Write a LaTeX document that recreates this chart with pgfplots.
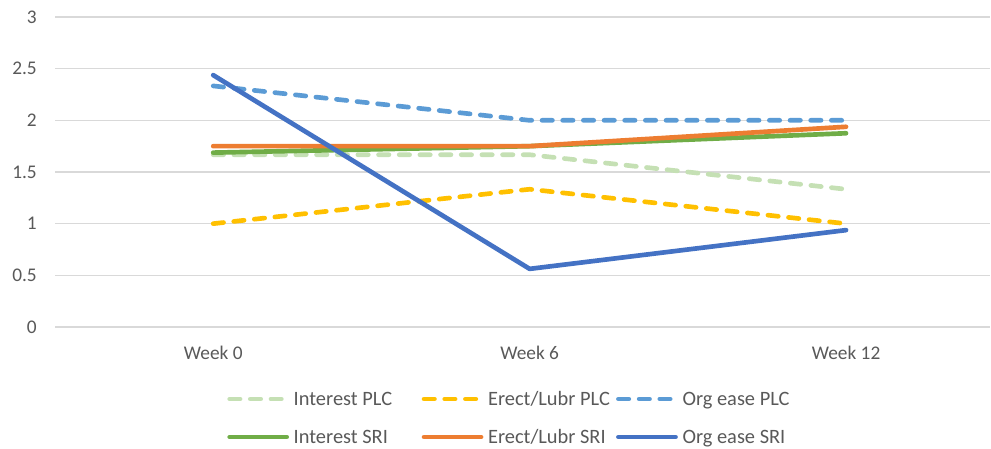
\documentclass[border=0pt]{standalone}
\usepackage{pgfplots}
\pgfplotsset{compat=1.18}
\usepackage{fontspec}
\setmainfont{Carlito}
\definecolor{gridgray}{HTML}{D9D9D9}
\definecolor{labelgray}{HTML}{595959}
\definecolor{intplc}{HTML}{C5E0B4}
\definecolor{erplc}{HTML}{FFC000}
\definecolor{orgplc}{HTML}{5B9BD5}
\definecolor{intsri}{HTML}{70AD47}
\definecolor{ersri}{HTML}{ED7D31}
\definecolor{orgsri}{HTML}{4472C4}
\newcommand{\lf}{\fontsize{14.5}{17}\selectfont}
\newcommand{\lgf}{\fontsize{15.3}{18}\selectfont}
\begin{document}
\begin{tikzpicture}
\begin{axis}[
  at={(0pt,0pt)}, anchor=south west,
  scale only axis, width=701.25pt, height=232.5pt,
  xmin=-0.5, xmax=2.455, ymin=0, ymax=3,
  xtick={0,1,2}, xticklabels={Week 0,Week 6,Week 12},
  ytick={0,0.5,1,1.5,2,2.5,3},
  axis line style={draw=none},
  major tick length=0pt,
  ymajorgrids, grid style={color=gridgray, line width=1.2pt},
  /pgf/number format/assume math mode=true,
  tick label style={font=\lf, text=labelgray, inner sep=0pt},
  yticklabel style={anchor=east, xshift=-13.5pt},
  xticklabel style={anchor=base, yshift=-24.2pt},
  legend columns=3,
  legend image code/.code={\draw[#1, line cap=round] (0pt,4.5pt) -- (42.8pt,4.5pt);},
  legend style={at={(rel axis cs:0.1843,-0.2086)}, anchor=north west,
    draw=none, fill=none, inner sep=0pt, outer sep=0pt,
    row sep=15.5pt, column sep=0pt, font=\lgf, text=labelgray,
    nodes={inner sep=0pt, text height=10pt, text depth=3pt, anchor=base west},
    /tikz/every odd column/.append style={column sep=3.5pt},
    /tikz/every even column/.append style={column sep=1.9pt}},
  every axis plot/.append style={line width=3.5pt, line cap=round, line join=round},
  plcdash/.style={dash pattern=on 7.8pt off 7.7pt},
]
\addplot[intplc, plcdash] coordinates {(0,1.667) (1,1.667) (2,1.333)};
\addlegendentry{\makebox[94.1pt][l]{Interest PLC}}
\addplot[erplc, plcdash] coordinates {(0,1.0) (1,1.333) (2,1.0)};
\addlegendentry{\makebox[94.1pt][l]{Erect/Lubr PLC}}
\addplot[orgplc, plcdash] coordinates {(0,2.333) (1,2.0) (2,2.0)};
\addlegendentry{\makebox[94.1pt][l]{Org ease PLC}}
\addplot[intsri] coordinates {(0,1.6875) (1,1.75) (2,1.875)};
\addlegendentry{\makebox[94.1pt][l]{Interest SRI}}
\addplot[ersri] coordinates {(0,1.75) (1,1.75) (2,1.9375)};
\addlegendentry{\makebox[94.1pt][l]{Erect/Lubr SRI}}
\addplot[orgsri] coordinates {(0,2.4375) (1,0.5625) (2,0.9375)};
\addlegendentry{\makebox[94.1pt][l]{Org ease SRI}}
\end{axis}
\pgfresetboundingbox
\useasboundingbox (-41.25pt,-91.5pt) rectangle (702pt,245.25pt);
\end{tikzpicture}
\end{document}
